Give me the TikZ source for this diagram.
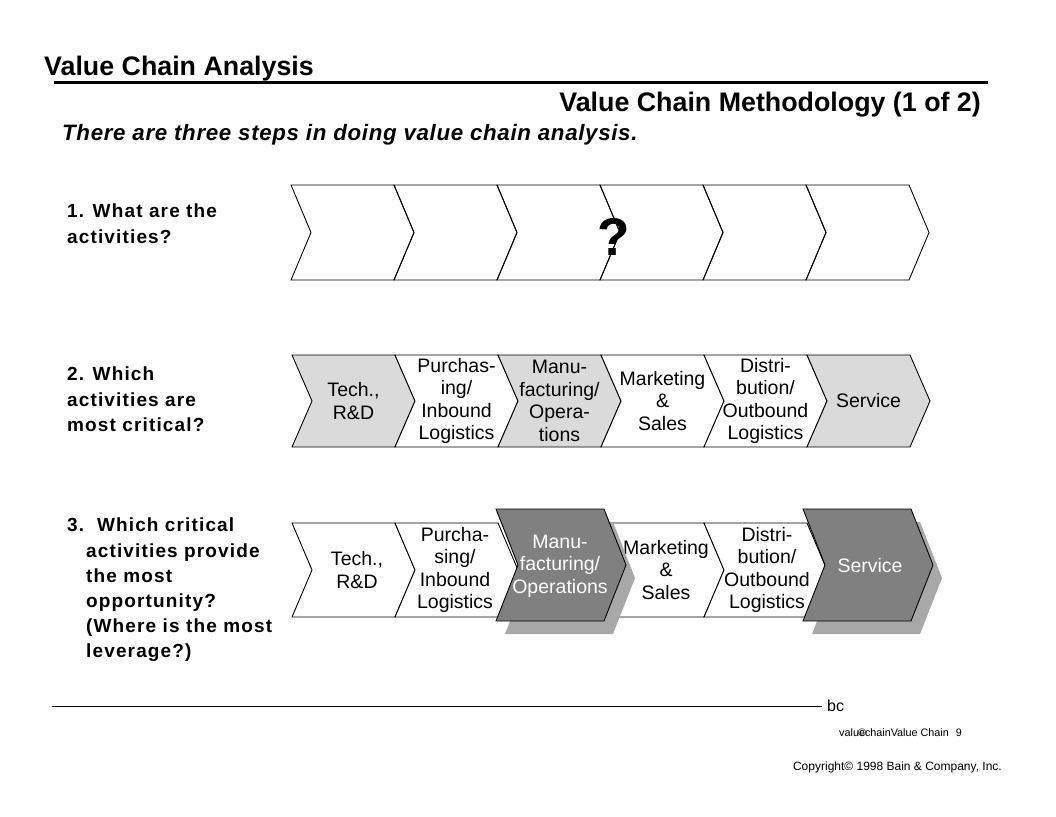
\documentclass[tikz,border=0pt]{standalone}
\usepackage{fontspec}
\setmainfont{Liberation Sans}
\newfontfamily\spacedfont[LetterSpace=6]{Liberation Sans}
\newfontfamily\introfont[LetterSpace=3]{Liberation Sans}
\usepackage{xcolor}
\usepackage{tikz}
\usetikzlibrary{calc}

\definecolor{chevgray}{HTML}{DADADA}
\definecolor{keygray}{HTML}{808080}
\definecolor{shadegray}{HTML}{A8A8A8}

\tikzset{
  chev/.style={draw=black, line width=0.9pt, line join=miter},
  chevtext/.style={align=center, inner sep=0pt, font=\fontsize{19.5}{22.5}\selectfont},
  steptext/.style={anchor=north west, align=left, inner sep=0pt, font=\spacedfont\bfseries\fontsize{19}{25.2}\selectfont},
  titletext/.style={inner sep=0pt, font=\bfseries\fontsize{26.8}{29}\selectfont},
}

\begin{document}
\begin{tikzpicture}[x=1pt,y=-1pt]
    \useasboundingbox (0,0) rectangle (1056,816);

    % Header
    \node[titletext, anchor=base west] (title) at (44,75) {Value Chain Analysis};
    \draw[line width=3pt] (54,82) -- (988,82);
    \node[titletext, anchor=base east] (subtitle) at (981,111) {Value Chain Methodology (1 of 2)};
    \node[anchor=base west, inner sep=0pt, font=\introfont\bfseries\itshape\fontsize{22.3}{25}\selectfont] (intro) at (62,140) {There are three steps in doing value chain analysis.};

    % Step questions
    \node[steptext] (q1) at (67,204) {1. What are the\\activities?};
    \node[steptext] (q2) at (67,367) {2. Which\\activities are\\most critical?};
    \node[steptext] (q3) at (67,518) {3.\ \ Which critical\\\hspace*{19pt}activities provide\\\hspace*{19pt}the most\\\hspace*{19pt}opportunity?\\\hspace*{19pt}(Where is the most\\\hspace*{19pt}leverage?)};

    % Step 1: unknown activities
    \foreach \i in {0,...,5}
        \draw[chev] ({291+103*\i},185) -- ++(103,0) -- ++(20,47.5) -- ++(-20,47.5) -- ++(-103,0) -- ++(20,-47.5) -- cycle;
    \node[font=\bfseries\fontsize{53}{53}\selectfont] (unknown) at (614,237) {?};

    % Step 2: critical activities
    \foreach \i/\fc/\nm/\txt in {0/chevgray/tech/{Tech.,\\R\&D},
                                 1/white/purch/{Purchas-\\ing/\\Inbound\\Logistics},
                                 2/chevgray/manu/{Manu-\\facturing/\\Opera-\\tions},
                                 3/white/mkt/{Marketing\\\&\\Sales},
                                 4/white/dist/{Distri-\\bution/\\Outbound\\Logistics},
                                 5/chevgray/serv/{Service}} {
        \draw[chev, fill=\fc] ({292+103*\i},355) -- ++(103,0) -- ++(20,46) -- ++(-20,46) -- ++(-103,0) -- ++(20,-46) -- cycle;
        \node[chevtext] (crit-\nm) at ({353.5+103*\i},401) {\txt};
    }

    % Step 3: leverage
    \foreach \i/\cx/\nm/\txt in {0/357/tech/{Tech.,\\R\&D},
                                 1/455/purch/{Purcha-\\sing/\\Inbound\\Logistics},
                                 3/666/mkt/{Marketing\\\&\\Sales},
                                 4/767/dist/{Distri-\\bution/\\Outbound\\Logistics}} {
        \draw[chev, fill=white] ({292+103*\i},523) -- ++(103,0) -- ++(20,47) -- ++(-20,47) -- ++(-103,0) -- ++(20,-47) -- cycle;
        \node[chevtext] (lev-\nm) at (\cx,570) {\txt};
    }
    \foreach \xa/\cx/\nm/\txt in {496/560/manu/{Manu-\\facturing/\\Operations},
                                  803/870/serv/{Service}} {
        \fill[shadegray] ({\xa+9},522) -- ++(108,0) -- ++(22,56) -- ++(-22,56) -- ++(-108,0) -- ++(22,-56) -- cycle;
        \draw[chev, fill=keygray] (\xa,509) -- ++(108,0) -- ++(22,56) -- ++(-22,56) -- ++(-108,0) -- ++(22,-56) -- cycle;
        \node[chevtext, text=white] (lev-\nm) at (\cx,566) {\txt};
    }

    % Footer
    \draw[line width=0.8pt] (52,706) -- (822,706);
    \node[anchor=base west, inner sep=0pt, font=\fontsize{16}{16}\selectfont] (mark) at (827,711) {bc};
    \node[anchor=base west, inner sep=0pt, font=\fontsize{10.8}{12}\selectfont] (page) at (839,736) {valuechainValue Chain\hspace{7pt}9};
    \node[anchor=base west, inner sep=0pt, font=\fontsize{10.8}{12}\selectfont] (pagemark) at (858,736) {©};
    \node[anchor=base east, inner sep=0pt, font=\fontsize{12}{14}\selectfont] (copy) at (1002,770) {Copyright© 1998 Bain \& Company, Inc.};
\end{tikzpicture}
\end{document}
